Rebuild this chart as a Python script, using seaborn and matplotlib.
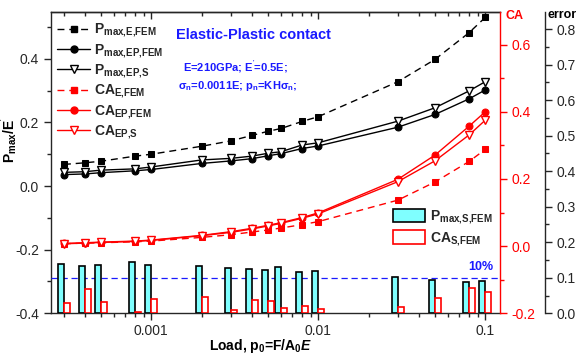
import numpy as np
import pandas as pd
import matplotlib
matplotlib.use("Agg")
import matplotlib.pyplot as plt
import seaborn as sns
from matplotlib.ticker import MultipleLocator, FuncFormatter, LogLocator
from matplotlib.patches import Patch
from matplotlib.lines import Line2D

# ---------------- data ----------------
load = [3e-4, 4e-4, 5e-4, 8e-4, 1e-3, 2e-3, 3e-3, 4e-3, 5e-3, 6e-3, 8e-3, 0.01, 0.03, 0.05, 0.08, 0.1]
pmax_e_fem = [0.068, 0.073, 0.078, 0.094, 0.100, 0.125, 0.142, 0.159, 0.172, 0.181, 0.203, 0.218, 0.328, 0.398, 0.482, 0.530]
pmax_ep_fem = [0.036, 0.038, 0.042, 0.048, 0.052, 0.071, 0.079, 0.086, 0.095, 0.102, 0.118, 0.126, 0.185, 0.225, 0.274, 0.302]
pmax_ep_s = [0.043, 0.045, 0.050, 0.054, 0.060, 0.082, 0.087, 0.094, 0.103, 0.108, 0.129, 0.136, 0.204, 0.246, 0.299, 0.328]
ca_e_fem = [0.007, 0.009, 0.010, 0.013, 0.015, 0.026, 0.034, 0.042, 0.048, 0.054, 0.064, 0.073, 0.137, 0.191, 0.252, 0.288]
ca_ep_fem = [0.008, 0.010, 0.012, 0.015, 0.018, 0.032, 0.043, 0.053, 0.062, 0.070, 0.085, 0.099, 0.199, 0.271, 0.357, 0.400]
ca_ep_s = [0.007, 0.009, 0.011, 0.014, 0.017, 0.031, 0.041, 0.051, 0.060, 0.068, 0.083, 0.096, 0.192, 0.254, 0.331, 0.375]
err_pmax = [0.139, 0.134, 0.135, 0.144, 0.136, 0.133, 0.128, 0.125, 0.123, 0.130, 0.115, 0.120, 0.101, 0.094, 0.089, 0.092]
err_ca = [0.028, 0.069, 0.032, 0.005, 0.041, 0.045, 0.008, 0.037, 0.034, 0.015, 0.021, 0.011, 0.019, 0.042, 0.070, 0.059]

line_labels = [r'$P_{max{,}E{,}FEM}$', r'$P_{max{,}EP{,}FEM}$', r'$P_{max{,}EP{,}S}$',
               r'$CA_{E{,}FEM}$', r'$CA_{EP{,}FEM}$', r'$CA_{EP{,}S}$']
bar_labels = [r'$P_{max{,}S{,}FEM}$', r'$CA_{S{,}FEM}$']
xtick_vals = [0.001, 0.01, 0.1]

# ---------------- style ----------------
sns.set_style("ticks")
plt.rcParams['font.family'] = ['Liberation Sans', 'DejaVu Sans']
plt.rcParams['mathtext.fontset'] = 'custom'
plt.rcParams['mathtext.rm'] = 'Liberation Sans:bold'
plt.rcParams['mathtext.bf'] = 'Liberation Sans:bold'
plt.rcParams['mathtext.it'] = 'Liberation Sans:italic:bold'
plt.rcParams['mathtext.default'] = 'rm'
plt.rcParams['axes.linewidth'] = 1.0

W, H = 579, 356
fig = plt.figure(figsize=(W / 100, H / 100), dpi=100)
L, R, T, B = 50.7, 499.5, 11.7, 313.3
ax = fig.add_axes([L / W, 1 - B / H, (R - L) / W, (B - T) / H])
ax.set_xscale('log')
ax_ca = ax.twinx()
ax_err = ax.twinx()

RED = '#ff0000'
BLUE = '#1a1aff'
CYAN = '#7fffff'
DASH = (0, (5, 3.5))
MS_SQ, MS_CI, MS_TR = 4.6, 5.0, 5.8

# Pmax curves
sns.lineplot(x=load, y=pmax_e_fem, ax=ax, color='black', linestyle=DASH, lw=1.0,
             marker='s', markersize=MS_SQ, markerfacecolor='black', markeredgecolor='black', legend=False)
sns.lineplot(x=load, y=pmax_ep_fem, ax=ax, color='black', lw=1.0,
             marker='o', markersize=MS_CI, markerfacecolor='black', markeredgecolor='black', legend=False)
sns.lineplot(x=load, y=pmax_ep_s, ax=ax, color='black', lw=1.0,
             marker='v', markersize=MS_TR, markerfacecolor='white', markeredgecolor='black',
             markeredgewidth=1.0, legend=False)

# CA curves
sns.lineplot(x=load, y=ca_e_fem, ax=ax_ca, color=RED, linestyle=DASH, lw=1.0,
             marker='s', markersize=MS_SQ, markerfacecolor=RED, markeredgecolor=RED, legend=False)
sns.lineplot(x=load, y=ca_ep_fem, ax=ax_ca, color=RED, lw=1.0,
             marker='o', markersize=MS_CI, markerfacecolor=RED, markeredgecolor=RED, legend=False)
sns.lineplot(x=load, y=ca_ep_s, ax=ax_ca, color=RED, lw=1.0,
             marker='v', markersize=MS_TR, markerfacecolor='white', markeredgecolor=RED,
             markeredgewidth=1.0, legend=False)

# error bars (columns)
load_arr = np.array(load)
bw = 10 ** 0.036
ax_err.bar(load_arr / bw, err_pmax, width=load_arr - load_arr / bw, align='edge',
           facecolor=CYAN, edgecolor='black', linewidth=1.2, zorder=2)
ax_err.bar(load_arr, err_ca, width=load_arr * bw - load_arr, align='edge',
           facecolor='white', edgecolor=RED, linewidth=1.2, zorder=2)
ax_err.axhline(0.1, color=BLUE, linestyle=(0, (5, 3)), lw=0.9, zorder=1)

# ---------------- axes ----------------
ax.set_xlim(2.5e-4, 0.1217)
ax.set_ylim(-0.4, 0.548)
ax_ca.set_ylim(-0.2, 0.698)
ax_err.set_ylim(0, 0.849)

ax.set_xlabel('')
ax.set_ylabel('')
ax_ca.set_ylabel('')
ax_err.set_ylabel('')

ax.xaxis.set_major_locator(LogLocator(base=10, numticks=10))
ax.xaxis.set_minor_locator(LogLocator(base=10, subs=np.arange(2, 10), numticks=20))
ax.set_xticks(xtick_vals)
ax.xaxis.set_major_formatter(FuncFormatter(lambda v, p: f'{v:g}'))
ax.tick_params(axis='x', which='major', direction='out', length=5, width=1, labelsize=10, pad=3)
ax.tick_params(axis='x', which='minor', direction='out', length=3, width=1)

sec = ax.secondary_xaxis('top')
sec.tick_params(which='major', direction='in', length=5, width=1, labeltop=False)
sec.tick_params(which='minor', direction='in', length=3, width=1)
sec.set_xticks(xtick_vals)
sec.xaxis.set_major_formatter(FuncFormatter(lambda v, p: ''))

yfmt = FuncFormatter(lambda v, p: f'{v:.1f}')
ax.yaxis.set_major_locator(MultipleLocator(0.2))
ax.yaxis.set_minor_locator(MultipleLocator(0.1))
ax.yaxis.set_major_formatter(yfmt)
ax.tick_params(axis='y', which='major', direction='out', length=5, width=1, labelsize=10)
ax.tick_params(axis='y', which='minor', direction='out', length=3, width=1)
ax.spines['right'].set_visible(False)
ax.spines['top'].set_visible(True)

ax_ca.yaxis.set_major_locator(MultipleLocator(0.2))
ax_ca.yaxis.set_minor_locator(MultipleLocator(0.1))
ax_ca.yaxis.set_major_formatter(yfmt)
ax_ca.tick_params(axis='y', which='major', direction='out', length=5, width=1, labelsize=10,
                  colors=RED)
ax_ca.tick_params(axis='y', which='minor', direction='out', length=3, width=1, colors=RED)
for s in ['top', 'left', 'bottom']:
    ax_ca.spines[s].set_visible(False)
ax_ca.spines['right'].set_color(RED)

ax_err.spines['right'].set_position(('outward', 45.5 * 0.72))
for s in ['top', 'left', 'bottom']:
    ax_err.spines[s].set_visible(False)
ax_err.yaxis.set_major_locator(MultipleLocator(0.1))
ax_err.yaxis.set_minor_locator(MultipleLocator(0.05))
ax_err.yaxis.set_major_formatter(yfmt)
ax_err.tick_params(axis='y', which='major', direction='out', length=5, width=1, labelsize=10)
ax_err.tick_params(axis='y', which='minor', direction='out', length=3, width=1)

# ---------------- legends ----------------
h_lines = [
    Line2D([], [], color='black', ls=DASH, lw=1.0, marker='s', ms=MS_SQ, mfc='black', mec='black'),
    Line2D([], [], color='black', lw=1.0, marker='o', ms=MS_CI, mfc='black', mec='black'),
    Line2D([], [], color='black', lw=1.0, marker='v', ms=MS_TR, mfc='white', mec='black'),
    Line2D([], [], color=RED, ls=DASH, lw=1.0, marker='s', ms=MS_SQ, mfc=RED, mec=RED),
    Line2D([], [], color=RED, lw=1.0, marker='o', ms=MS_CI, mfc=RED, mec=RED),
    Line2D([], [], color=RED, lw=1.0, marker='v', ms=MS_TR, mfc='white', mec=RED),
]
leg1 = ax_err.legend(h_lines, line_labels, loc='upper left', bbox_to_anchor=(57 / W, 1 - 22 / H),
                     bbox_transform=fig.transFigure, frameon=False, fontsize=10, borderpad=0,
                     borderaxespad=0, handlelength=2.4, handletextpad=0.3, labelspacing=0.22)
ax_err.add_artist(leg1)

h_bars = [Patch(facecolor=CYAN, edgecolor='black', lw=1.2),
          Patch(facecolor='white', edgecolor=RED, lw=1.2)]
ax_err.legend(h_bars, bar_labels, loc='upper left', bbox_to_anchor=(393 / W, 1 - 209 / H),
              bbox_transform=fig.transFigure, frameon=False, fontsize=10, borderpad=0,
              borderaxespad=0, handlelength=2.3, handleheight=1.1, handletextpad=0.35,
              labelspacing=0.3)

# ---------------- texts ----------------
def ftext(x, y, s, **kw):
    fig.text(x / W, 1 - y / H, s, **kw)

ftext(176, 35, 'Elastic-Plastic contact', color=BLUE, fontsize=10.5, fontweight='bold',
      ha='left', va='center')
ftext(183, 66.5, r"E=210GPa; E$^{'}$=0.5E;", color=BLUE, fontsize=8, fontweight='bold',
      ha='left', va='center')
ftext(178, 86, r"$\sigma_n$=0.0011E; $p_n$=KH$\sigma_n$;", color=BLUE, fontsize=8,
      fontweight='bold', ha='left', va='center')
ftext(468, 267, '10%', color=BLUE, fontsize=9, fontweight='bold', ha='left', va='center')
ftext(506, 16, 'CA', color=RED, fontsize=9, fontweight='bold', ha='left', va='center')
ftext(548, 15, 'error', color='black', fontsize=9, fontweight='bold', ha='left', va='center')
ftext(9, 140, r"$P_{max}$/E$^{'}$", color='black', fontsize=10, fontweight='bold',
      rotation=90, ha='center', va='center')
ftext(261, 346, r"Load, $p_0$=F/$A_0$$\mathit{E}$", color='black', fontsize=10,
      fontweight='bold', ha='center', va='center')

fig.savefig('out.png', dpi=100)
